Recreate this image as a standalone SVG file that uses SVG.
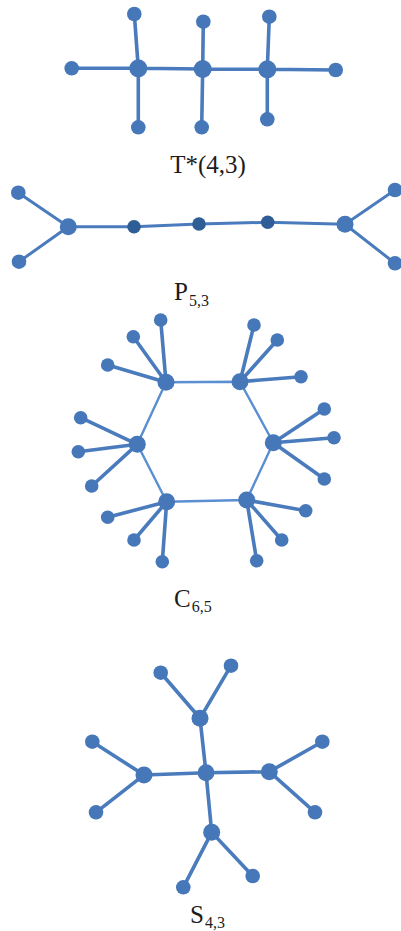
<svg xmlns="http://www.w3.org/2000/svg" width="401" height="931" viewBox="0 0 401 931">
<style>
.e{stroke:#4a7bbd;stroke-width:3.6;stroke-linecap:round;fill:none}
.eh{stroke:#5a8fd2;stroke-width:2.4;fill:none}
.ep{stroke:#4a7bbd;stroke-width:3;fill:none}
.n{fill:#4677b8}
.d{fill:#2f5e96}
.lbl{font-family:"Liberation Serif","Times New Roman",serif;fill:#1c1c1c}
.sub{font-size:16px}
</style>
<rect width="401" height="931" fill="#ffffff"/>
<g id="connectors">
  <path class="e" d="M71.7,68.3 L138.3,68.3 L202.7,69 L267.3,69.3 L335.7,70 M134.3,14 L138.3,68.3 L138.3,127.3 M203.3,21.7 L202.7,69 L201.7,127.3 M269.3,16.7 L267.3,69.3 L267.3,119.3"/>
  <path class="ep" d="M18.3,192.7 L68.3,226.7 L19,261.7 M68.3,226.7 L134,226.7 L199,224 L267.7,222.3 L345,224.3 M395,190 L345,224.3 L395,263.3"/>
  <path class="eh" d="M166,382.3 L240,381.7 L273.3,442.7 L246.7,500 L166.7,501.7 L137.3,444.3 Z"/>
  <path class="e" d="M166,382.3 L160.7,320 M166,382.3 L133.3,336.7 M166,382.3 L107.7,365
  M240,381.7 L254,325 M240,381.7 L277.3,340 M240,381.7 L301,376.7
  M137.3,444.3 L80.7,417.7 M137.3,444.3 L78.3,451.7 M137.3,444.3 L91.7,486
  M273.3,442.7 L324.3,409 M273.3,442.7 L334,437.7 M273.3,442.7 L324.3,479
  M166.7,501.7 L107.7,517.3 M166.7,501.7 L134,540 M166.7,501.7 L162.3,561.7
  M246.7,500 L305.7,510.7 M246.7,500 L281.7,540 M246.7,500 L256.7,560.7"/>
  <path class="e" d="M160.7,672.7 L200,718.3 L231,665.7 M200,718.3 L206,772.7 L211.7,832.3 M144,775 L206,772.7 L269.3,771.7
  M92.3,741.7 L144,775 L96,812.3 M322.3,741.7 L269.3,771.7 L315,812.3 M183.3,887.3 L211.7,832.3 L252.7,876"/>
</g>
<g id="graph-T43">
  <circle class="n" cx="71.7" cy="68.3" r="7.3"/>
  <circle class="n" cx="138.3" cy="68.3" r="9"/>
  <circle class="n" cx="202.7" cy="69" r="9"/>
  <circle class="n" cx="267.3" cy="69.3" r="9"/>
  <circle class="n" cx="335.7" cy="70" r="7.3"/>
  <circle class="n" cx="134.3" cy="14" r="7.3"/>
  <circle class="n" cx="138.3" cy="127.3" r="7.3"/>
  <circle class="n" cx="203.3" cy="21.7" r="7.3"/>
  <circle class="n" cx="201.7" cy="127.3" r="7.3"/>
  <circle class="n" cx="269.3" cy="16.7" r="7.3"/>
  <circle class="n" cx="267.3" cy="119.3" r="7.3"/>
  <text class="lbl" x="208" y="173" font-size="25" text-anchor="middle">T*(4,3)</text>
</g>
<g id="graph-P53">
  <circle class="n" cx="18.3" cy="192.7" r="7.3"/>
  <circle class="n" cx="19" cy="261.7" r="7.3"/>
  <circle class="n" cx="68.3" cy="226.7" r="8.5"/>
  <circle class="d" cx="134" cy="226.7" r="6.8"/>
  <circle class="d" cx="199" cy="224" r="6.8"/>
  <circle class="d" cx="267.7" cy="222.3" r="6.8"/>
  <circle class="n" cx="345" cy="224.3" r="8.5"/>
  <circle class="n" cx="395" cy="190" r="7.3"/>
  <circle class="n" cx="395" cy="263.3" r="7.3"/>
  <text class="lbl" x="174" y="300" font-size="25">P<tspan class="sub" dx="1" dy="6">5,3</tspan></text>
</g>
<g id="graph-C65">
  <circle class="n" cx="160.7" cy="320" r="6.8"/>
  <circle class="n" cx="133.3" cy="336.7" r="6.8"/>
  <circle class="n" cx="107.7" cy="365" r="6.8"/>
  <circle class="n" cx="254" cy="325" r="6.8"/>
  <circle class="n" cx="277.3" cy="340" r="6.8"/>
  <circle class="n" cx="301" cy="376.7" r="6.8"/>
  <circle class="n" cx="80.7" cy="417.7" r="6.8"/>
  <circle class="n" cx="78.3" cy="451.7" r="6.8"/>
  <circle class="n" cx="91.7" cy="486" r="6.8"/>
  <circle class="n" cx="324.3" cy="409" r="6.8"/>
  <circle class="n" cx="334" cy="437.7" r="6.8"/>
  <circle class="n" cx="324.3" cy="479" r="6.8"/>
  <circle class="n" cx="107.7" cy="517.3" r="6.8"/>
  <circle class="n" cx="134" cy="540" r="6.8"/>
  <circle class="n" cx="162.3" cy="561.7" r="6.8"/>
  <circle class="n" cx="305.7" cy="510.7" r="6.8"/>
  <circle class="n" cx="281.7" cy="540" r="6.8"/>
  <circle class="n" cx="256.7" cy="560.7" r="6.8"/>
  <circle class="n" cx="166" cy="382.3" r="8.5"/>
  <circle class="n" cx="240" cy="381.7" r="8.5"/>
  <circle class="n" cx="137.3" cy="444.3" r="8.5"/>
  <circle class="n" cx="273.3" cy="442.7" r="8.5"/>
  <circle class="n" cx="166.7" cy="501.7" r="8.5"/>
  <circle class="n" cx="246.7" cy="500" r="8.5"/>
  <text class="lbl" x="174" y="607" font-size="25">C<tspan class="sub" dx="1" dy="5">6,5</tspan></text>
</g>
<g id="graph-S43">
  <circle class="n" cx="160.7" cy="672.7" r="7.3"/>
  <circle class="n" cx="231" cy="665.7" r="7.3"/>
  <circle class="n" cx="200" cy="718.3" r="8.5"/>
  <circle class="n" cx="206" cy="772.7" r="8.5"/>
  <circle class="n" cx="144" cy="775" r="8.5"/>
  <circle class="n" cx="269.3" cy="771.7" r="8.5"/>
  <circle class="n" cx="92.3" cy="741.7" r="7.3"/>
  <circle class="n" cx="96" cy="812.3" r="7.3"/>
  <circle class="n" cx="322.3" cy="741.7" r="7.3"/>
  <circle class="n" cx="315" cy="812.3" r="7.3"/>
  <circle class="n" cx="211.7" cy="832.3" r="8.5"/>
  <circle class="n" cx="183.3" cy="887.3" r="7.3"/>
  <circle class="n" cx="252.7" cy="876" r="7.3"/>
  <text class="lbl" x="190" y="923" font-size="25">S<tspan class="sub" dx="1" dy="5">4,3</tspan></text>
</g>
</svg>
